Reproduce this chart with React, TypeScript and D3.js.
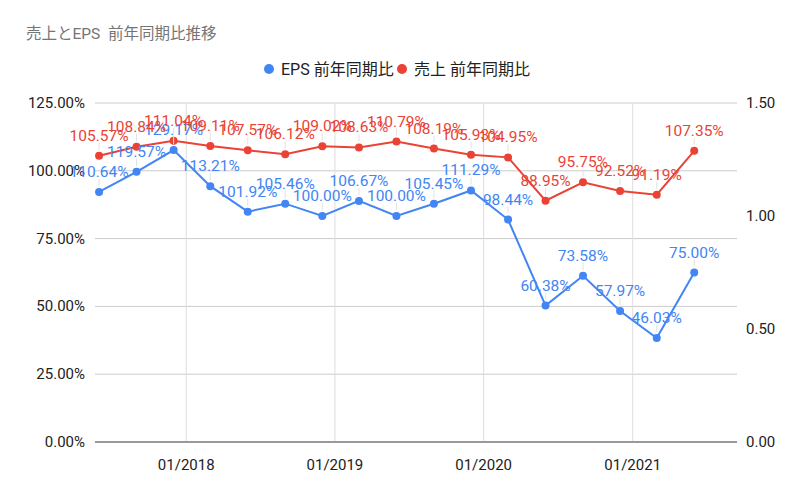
import React from 'react'
import * as d3 from 'd3'

// quarterly data points (year-month)
const dates = [
  '2017-06', '2017-09', '2017-12', '2018-03', '2018-06', '2018-09', '2018-12',
  '2019-03', '2019-06', '2019-09', '2019-12', '2020-03', '2020-06', '2020-09',
  '2020-12', '2021-03', '2021-06',
]
// 売上 前年同期比 (%)  -> left axis
const salesYoY = [
  105.57, 108.84, 111.04, 109.11, 107.57, 106.12, 109.02, 108.63, 110.79,
  108.19, 105.93, 104.95, 88.95, 95.75, 92.52, 91.19, 107.35,
]
// EPS 前年同期比 (ratio) -> right axis
const epsYoY = [
  1.1064, 1.1957, 1.2917, 1.1321, 1.0192, 1.0546, 1.0, 1.0667, 1.0,
  1.0545, 1.1129, 0.9844, 0.6038, 0.7358, 0.5797, 0.4603, 0.75,
]
const leftTicks = [0, 25, 50, 75, 100, 125]
const rightTicks = [0, 0.5, 1.0, 1.5]
const xTickLabels = ['2018-01', '2019-01', '2020-01', '2021-01']

const W = 800
const H = 495
const FONT = "Roboto, 'Noto Sans CJK JP', sans-serif"
const BLUE = '#4285f4'
const RED = '#ea4335'

const parse = d3.timeParse('%Y-%m')

const App = () => {
  const x = d3
    .scaleTime()
    .domain([new Date(2017, 4, 22), new Date(2021, 8, 14)])
    .range([95, 737])
  const yL = d3.scaleLinear().domain([0, 125]).range([442, 103])
  const yR = d3.scaleLinear().domain([0, 1.5]).range([442, 103])

  const sales = dates.map((d, i) => ({ x: x(parse(d)!), y: yL(salesYoY[i]), label: salesYoY[i].toFixed(2) + '%' }))
  const eps = dates.map((d, i) => ({ x: x(parse(d)!), y: yR(epsYoY[i]), label: (epsYoY[i] * 100).toFixed(2) + '%' }))

  const line = d3
    .line<{ x: number; y: number }>()
    .x((d) => d.x)
    .y((d) => d.y)

  const series = (pts: typeof sales, color: string) => (
    <g>
      <path d={line(pts) || ''} fill="none" stroke={color} strokeWidth={2} />
      {pts.map((p, i) => (
        <circle key={i} cx={p.x} cy={p.y} r={4} fill={color} />
      ))}
    </g>
  )

  const labels = (pts: typeof sales, color: string) => (
    <g>
      {pts.map((p, i) => (
        <g key={i}>
          <line x1={p.x} x2={p.x} y1={p.y - 6} y2={p.y - 13} stroke="#e0e0e0" strokeWidth={1} />
          <text x={p.x} y={p.y - 15} textAnchor="middle" fill={color} fontSize={15.5} fontFamily={FONT}>
            {p.label}
          </text>
        </g>
      ))}
    </g>
  )

  return (
    <svg width={W} height={H} style={{ position: 'absolute', left: 0, top: 0, background: '#fff' }}>
      <rect width={W} height={H} fill="#fff" />
      <text x={26} y={39} fontSize={15.5} fill="#757575" fontFamily={FONT} style={{ whiteSpace: 'pre' }}>
        {'売上とEPS  前年同期比推移'}
      </text>

      {/* legend */}
      <g fontFamily={FONT} fontSize={16} fill="#222">
        <circle cx={269} cy={69} r={5} fill={BLUE} />
        <text x={281} y={75}>EPS 前年同期比</text>
        <circle cx={402} cy={69} r={5} fill={RED} />
        <text x={414} y={75}>売上 前年同期比</text>
      </g>

      {/* grid */}
      {leftTicks.map((t) => (
        <line key={t} x1={95} x2={737} y1={yL(t)} y2={yL(t)} stroke={t === 0 ? '#777' : '#ccc'} strokeWidth={t === 0 ? 1.5 : 1} />
      ))}
      {xTickLabels.map((t) => (
        <line key={t} x1={x(parse(t)!)} x2={x(parse(t)!)} y1={103} y2={441} stroke="#ddd" />
      ))}

      {/* axes labels */}
      <g fontFamily={FONT} fontSize={15} fill="#222">
        {leftTicks.map((t) => (
          <text key={t} x={85} y={yL(t) + 5} textAnchor="end">
            {t.toFixed(2)}%
          </text>
        ))}
        {rightTicks.map((t) => (
          <text key={t} x={746} y={yR(t) + 5}>
            {t.toFixed(2)}
          </text>
        ))}
        {xTickLabels.map((t) => (
          <text key={t} x={x(parse(t)!)} y={470} textAnchor="middle">
            {d3.timeFormat('%m/%Y')(parse(t)!)}
          </text>
        ))}
      </g>

      {series(eps, BLUE)}
      {series(sales, RED)}
      {labels(eps, BLUE)}
      {labels(sales, RED)}
    </svg>
  )
}

export default App
